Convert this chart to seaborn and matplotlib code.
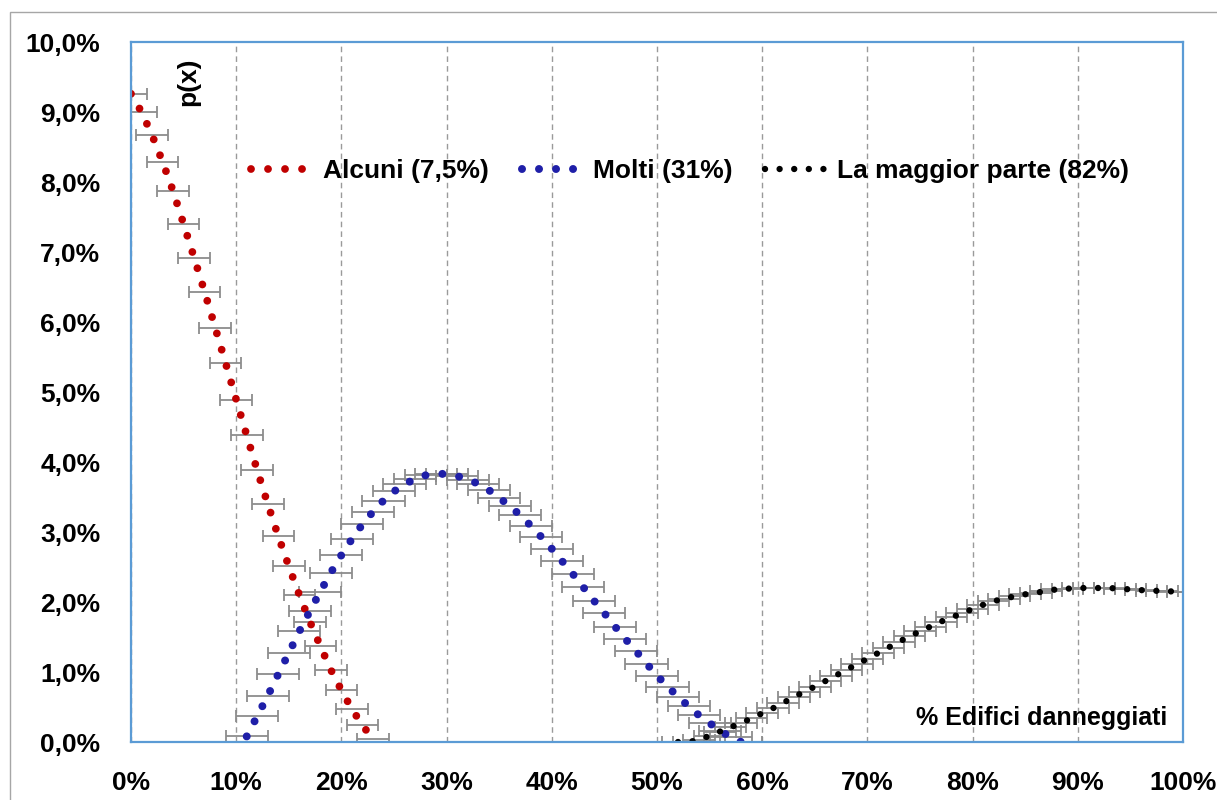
import matplotlib
matplotlib.use("Agg")
import matplotlib.pyplot as plt
from matplotlib.lines import Line2D
from matplotlib.patches import Rectangle
from matplotlib.ticker import FuncFormatter
import pandas as pd
import seaborn as sns

# Discrete distributions p(x) of the share of damaged buildings (values in %)
alcuni_x = list(range(0, 24))
alcuni_p = [9.26, 9.00, 8.67, 8.29, 7.87, 7.40, 6.92, 6.43, 5.92, 5.41,
            4.89, 4.38, 3.88, 3.40, 2.94, 2.51, 2.10, 1.72, 1.37, 1.03,
            0.74, 0.47, 0.24, 0.04]

molti_x = list(range(11, 59))
molti_p = [0.08, 0.37, 0.66, 0.97, 1.27, 1.58, 1.87, 2.15, 2.42, 2.67,
           2.90, 3.11, 3.29, 3.45, 3.58, 3.68, 3.76, 3.81, 3.83, 3.83,
           3.80, 3.75, 3.69, 3.60, 3.49, 3.37, 3.24, 3.09, 2.93, 2.76,
           2.58, 2.40, 2.21, 2.02, 1.84, 1.65, 1.47, 1.30, 1.12, 0.95,
           0.79, 0.65, 0.51, 0.38, 0.27, 0.16, 0.07, 0.00]

maggior_x = list(range(52, 101))
maggior_p = [0.00, 0.00, 0.03, 0.09, 0.15, 0.21, 0.27, 0.34, 0.41, 0.48,
             0.56, 0.64, 0.72, 0.79, 0.87, 0.95, 1.03, 1.11, 1.19, 1.27,
             1.35, 1.43, 1.51, 1.58, 1.65, 1.72, 1.78, 1.84, 1.90, 1.96,
             2.01, 2.05, 2.08, 2.11, 2.13, 2.16, 2.18, 2.19, 2.20, 2.20,
             2.20, 2.20, 2.19, 2.18, 2.17, 2.16, 2.16, 2.15, 2.14]

# Half-width of the uncertainty on x (percentage points)
alcuni_err = 1.5
molti_err = 2.0
maggior_err = 1.5

series_labels = ["Alcuni (7,5%)", "Molti (31%)", "La maggior parte (82%)"]
series_colors = ["#c00000", "#1f1fa8", "#000000"]

x_ticks = list(range(0, 101, 10))
y_ticks = [v / 2 for v in range(0, 21, 2)]

sns.set_theme(style="white")
plt.rcParams["font.family"] = ["Liberation Sans", "DejaVu Sans"]
plt.rcParams["font.weight"] = "bold"
plt.rcParams["text.color"] = "black"
plt.rcParams["xtick.color"] = "black"
plt.rcParams["ytick.color"] = "black"

W, H = 1217, 800
FS = 19
fig = plt.figure(figsize=(W / 100, H / 100), dpi=100)
fig.patch.set_facecolor("white")
ax = fig.add_axes([131 / W, 58 / H, (1183 - 131) / W, (742 - 42) / H])

# chart-area frame
fig.add_artist(Rectangle((10 / W, -0.05), 1.2, 1 - 12 / H + 0.05,
                         transform=fig.transFigure, fill=False,
                         edgecolor="#a6a6a6", linewidth=1.0))

frames = [
    pd.DataFrame({"x": alcuni_x, "p": alcuni_p}),
    pd.DataFrame({"x": molti_x, "p": molti_p}),
    pd.DataFrame({"x": maggior_x, "p": maggior_p}),
]
errs = [alcuni_err, molti_err, maggior_err]
widths_px = [7.8, 8.0, 6.4]
pitch_px = [17.0, 17.0, 14.6]

handles = []
for df, err, col, lab, wpx, ppx in zip(frames, errs, series_colors,
                                       series_labels, widths_px, pitch_px):
    ax.errorbar(df["x"], df["p"], xerr=err, fmt="none", ecolor="#8c8c8c",
                elinewidth=1.3, capsize=4, capthick=1.3, zorder=2)
    lw = wpx * 0.72
    style = (0, (0.001, ppx / wpx))
    sns.lineplot(data=df, x="x", y="p", ax=ax, color=col, linewidth=lw,
                 linestyle=style, dash_capstyle="round", zorder=3,
                 estimator=None, sort=False)
    handles.append(Line2D([], [], color=col, linewidth=lw, linestyle=style,
                          dash_capstyle="round", label=lab))

ax.set_xlim(0, 100)
ax.set_ylim(0, 10)
ax.set_xticks(x_ticks)
ax.set_yticks(y_ticks)
ax.xaxis.set_major_formatter(FuncFormatter(lambda v, _: f"{v:.0f}%"))
ax.yaxis.set_major_formatter(
    FuncFormatter(lambda v, _: f"{v:.1f}%".replace(".", ",")))
ax.tick_params(axis="both", length=0, labelsize=FS, labelcolor="black")
ax.tick_params(axis="y", pad=22)
ax.tick_params(axis="x", pad=21)
for lbl in ax.get_xticklabels() + ax.get_yticklabels():
    lbl.set_fontweight("bold")
ax.set_xlabel("")
ax.set_ylabel("")

ax.grid(axis="x", color="#9a9a9a", linestyle=(0, (4, 3)), linewidth=1.0)
ax.grid(axis="y", visible=False)
for sp in ax.spines.values():
    sp.set_color("#5b9bd5")
    sp.set_linewidth(1.6)
    sp.set_zorder(4)

leg = ax.legend(handles=handles, loc="center", ncol=3,
                bbox_to_anchor=((690 - 131) / 1052, 1 - (171 - 42) / 700),
                frameon=False, handlelength=2.25, handletextpad=0.45,
                columnspacing=1.25, prop={"size": FS, "weight": "bold"})
for t in leg.get_texts():
    t.set_color("black")

fig.text(188 / W, 1 - 82 / H, "p(x)", rotation=90, ha="center", va="center",
         fontsize=FS, fontweight="bold", color="black")
ax.text(0.985, 0.035, "% Edifici danneggiati", transform=ax.transAxes,
        ha="right", va="center", fontsize=18, fontweight="bold",
        color="black")

fig.savefig("out.png", dpi=100)
